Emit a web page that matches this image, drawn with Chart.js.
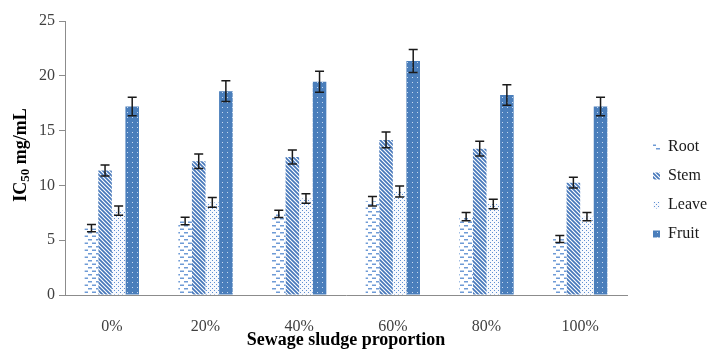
<!DOCTYPE html>
<html><head><meta charset="utf-8">
<script src="https://cdn.jsdelivr.net/npm/chart.js@4.4.1/dist/chart.umd.min.js"></script>
<style>html,body{margin:0;padding:0;background:#fff;}</style>
</head><body>
<canvas id="c" width="709" height="352"></canvas>
<script>
const categories = ['0%', '20%', '40%', '60%', '80%', '100%'];
const seriesNames = ['Root', 'Stem', 'Leave', 'Fruit'];
const rootValues  = [6.1, 6.75, 7.4, 8.55, 7.15, 5.1];
const rootErrors  = [0.33, 0.34, 0.33, 0.44, 0.38, 0.32];
const stemValues  = [11.35, 12.2, 12.6, 14.15, 13.35, 10.25];
const stemErrors  = [0.5, 0.66, 0.64, 0.72, 0.67, 0.49];
const leaveValues = [7.7, 8.45, 8.8, 9.45, 8.3, 7.15];
const leaveErrors = [0.42, 0.44, 0.44, 0.5, 0.43, 0.38];
const fruitValues = [17.2, 18.6, 19.45, 21.35, 18.25, 17.2];
const fruitErrors = [0.85, 0.95, 0.96, 1.06, 0.94, 0.85];
const yTickValues = [0, 5, 10, 15, 20, 25];
const xTitle = 'Sewage sludge proportion';
const yTitleParts = ['IC', '50', ' mg/mL'];

const SERIF = "'Liberation Serif', 'Times New Roman', serif";
Chart.defaults.font.family = SERIF;

function makePattern(w, h, draw) {
  const c = document.createElement('canvas');
  c.width = w; c.height = h;
  const x = c.getContext('2d');
  draw(x, w, h);
  return x.createPattern(c, 'repeat');
}
const rootPattern = makePattern(8, 7, (x) => {
  x.fillStyle = '#ffffff'; x.fillRect(0, 0, 8, 7);
  x.fillStyle = '#6f9bd6';
  x.fillRect(0, 1, 4, 1.5);
  x.fillRect(4, 4.5, 4, 1.5);
});
const stemPattern = makePattern(4, 4, (x) => {
  x.fillStyle = '#ffffff'; x.fillRect(0, 0, 4, 4);
  x.strokeStyle = '#4677ba'; x.lineWidth = 1.7;
  x.beginPath();
  x.moveTo(-1, -1); x.lineTo(5, 5);
  x.moveTo(-1, 3); x.lineTo(1, 5);
  x.moveTo(3, -1); x.lineTo(5, 1);
  x.stroke();
});
const leavePattern = makePattern(4, 4, (x) => {
  x.fillStyle = '#f7f9fd'; x.fillRect(0, 0, 4, 4);
  x.fillStyle = '#5f8fd2';
  x.fillRect(0, 0, 1, 1);
  x.fillRect(2, 2, 1, 1);
});
const fruitPattern = makePattern(5, 5, (x) => {
  x.fillStyle = '#4a7ebb'; x.fillRect(0, 0, 5, 5);
  x.fillStyle = '#c9daf0';
  x.fillRect(2, 2, 1, 1);
});

const seriesValues = [rootValues, stemValues, leaveValues, fruitValues];
const seriesErrors = [rootErrors, stemErrors, leaveErrors, fruitErrors];
const seriesPatterns = [rootPattern, stemPattern, leavePattern, fruitPattern];

const datasets = seriesNames.map((name, i) => ({
  label: name,
  data: seriesValues[i],
  errors: seriesErrors[i],
  backgroundColor: seriesPatterns[i],
  borderWidth: 0,
  barPercentage: 1.0,
  categoryPercentage: 0.58
}));

const errorBarPlugin = {
  id: 'errorBars',
  afterDatasetsDraw(chart) {
    const ctx = chart.ctx, ys = chart.scales.y;
    ctx.save();
    ctx.strokeStyle = '#1a1a1a';
    ctx.lineWidth = 1.5;
    chart.data.datasets.forEach((ds, i) => {
      const meta = chart.getDatasetMeta(i);
      meta.data.forEach((bar, j) => {
        const v = ds.data[j], e = ds.errors[j];
        const x = bar.x;
        const yt = ys.getPixelForValue(v + e), yb = ys.getPixelForValue(v - e);
        ctx.beginPath();
        ctx.moveTo(x, yt); ctx.lineTo(x, yb);
        ctx.moveTo(x - 4.5, yt); ctx.lineTo(x + 4.5, yt);
        ctx.moveTo(x - 4.5, yb); ctx.lineTo(x + 4.5, yb);
        ctx.stroke();
      });
    });
    ctx.restore();
  }
};

const yTitlePlugin = {
  id: 'yTitle',
  afterDraw(chart) {
    const ctx = chart.ctx;
    const ca = chart.chartArea;
    ctx.save();
    ctx.fillStyle = '#000';
    ctx.translate(21, (ca.top + ca.bottom) / 2 - 3);
    ctx.rotate(-Math.PI / 2);
    const big = "bold 18px " + SERIF, small = "bold 13px " + SERIF;
    ctx.font = big;
    const w1 = ctx.measureText(yTitleParts[0]).width;
    const w3 = ctx.measureText(yTitleParts[2]).width;
    ctx.font = small;
    const w2 = ctx.measureText(yTitleParts[1]).width;
    let x = -(w1 + w2 + w3) / 2;
    ctx.textBaseline = 'middle';
    ctx.textAlign = 'left';
    ctx.font = big; ctx.fillText(yTitleParts[0], x, 0); x += w1;
    ctx.font = small; ctx.fillText(yTitleParts[1], x, 5); x += w2;
    ctx.font = big; ctx.fillText(yTitleParts[2], x, 0);
    ctx.restore();
  }
};

const legendPlacePlugin = {
  id: 'legendPlace',
  afterInit(chart) {
    const lg = chart.legend;
    if (lg && !lg._patched) {
      const f = lg.fit.bind(lg);
      lg.fit = function () { f(); this.width = 82; };
      lg._patched = true;
    }
  },
  afterLayout(chart) {
    const lg = chart.legend;
    lg.left += 13; lg.right += 13;
    lg.top += 4; lg.bottom += 4;
  }
};

new Chart(document.getElementById('c'), {
  type: 'bar',
  data: { labels: categories, datasets },
  plugins: [errorBarPlugin, yTitlePlugin, legendPlacePlugin],
  options: {
    responsive: false,
    animation: false,
    layout: { padding: { left: 0, right: 0, top: 21, bottom: 0 } },
    plugins: {
      tooltip: { enabled: false },
      legend: {
        position: 'right',
        align: 'center',
        labels: {
          boxWidth: 7, boxHeight: 7, padding: 13,
          color: '#1a1a1a',
          font: { family: SERIF, size: 16 }
        }
      }
    },
    scales: {
      x: {
        grid: { display: false },
        border: { display: true, color: '#8c8c8c', width: 1 },
        ticks: { color: '#404040', padding: 14, font: { family: SERIF, size: 16 } },
        title: { display: true, text: xTitle, color: '#000', padding: { top: 0, bottom: 1 },
                 font: { family: SERIF, size: 18, weight: 'bold' } },
        afterFit(s) { s.height = 57; }
      },
      y: {
        min: 0, max: 25,
        afterBuildTicks(s) { s.ticks = yTickValues.map(v => ({ value: v })); },
        grid: { drawOnChartArea: false, drawTicks: true, tickLength: 6, color: '#8c8c8c' },
        border: { display: true, color: '#8c8c8c', width: 1 },
        ticks: { color: '#404040', padding: 4, font: { family: SERIF, size: 16 } },
        afterFit(s) { s.width = 65; }
      }
    }
  }
});
</script>
</body></html>
